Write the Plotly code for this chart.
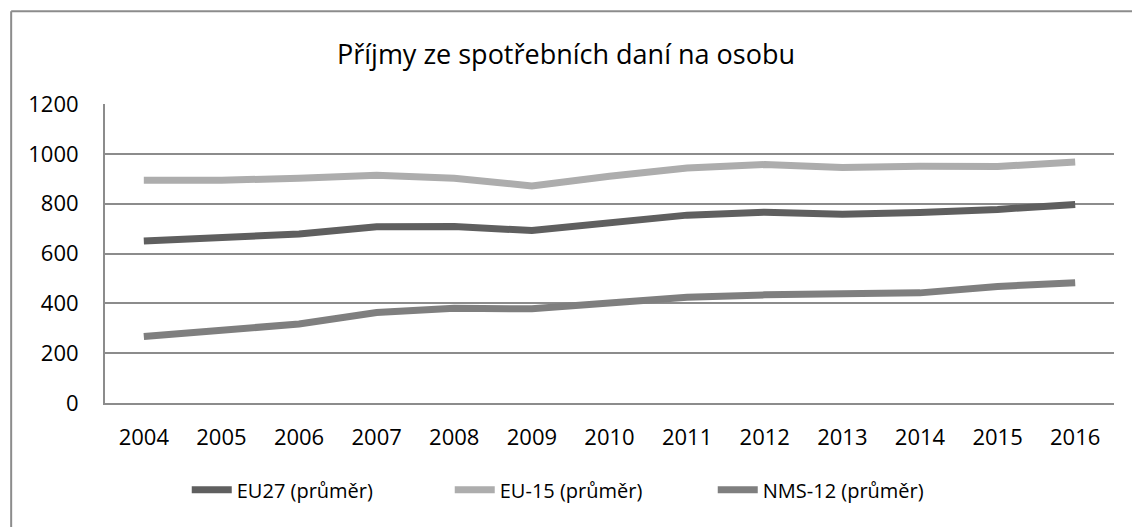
import plotly.graph_objects as go

years = ["2004", "2005", "2006", "2007", "2008", "2009", "2010",
         "2011", "2012", "2013", "2014", "2015", "2016"]
eu27 = [650, 665, 678, 707, 708, 692, 722, 754, 766, 758, 765, 777, 797]
eu15 = [894, 894, 902, 914, 902, 871, 910, 943, 957, 945, 950, 949, 967]
nms12 = [267, 294, 317, 363, 380, 378, 400, 424, 434, 436, 442, 468, 483]

series_names = ["EU27 (průměr)", "EU-15 (průměr)", "NMS-12 (průměr)"]
series_colors = ["#5f5f5f", "#adadad", "#7f7f7f"]

fig = go.Figure()
for name, vals, col in zip(series_names, [eu27, eu15, nms12], series_colors):
    fig.add_trace(go.Scatter(x=years, y=vals, name=name, mode="lines",
                             line=dict(color=col, width=7)))

font_family = "Open Sans, Liberation Sans, sans-serif"
fig.update_layout(
    width=1132, height=527,
    paper_bgcolor="white", plot_bgcolor="white",
    margin=dict(l=105, r=18, t=104, b=124),
    title=dict(text="Příjmy ze spotřebních daní na osobu", x=0.5, xanchor="center",
               y=0.897, yanchor="middle",
               font=dict(family=font_family, size=27, color="#000000")),
    font=dict(family=font_family, size=22, color="#000000"),
    showlegend=True,
    legend=dict(orientation="h", x=0.472, xanchor="center", y=-0.225, yanchor="top",
                font=dict(size=20, color="#000000"), traceorder="normal",
                itemwidth=40, entrywidth=208, entrywidthmode="pixels"),
    xaxis=dict(type="category", range=[-0.5, len(years) - 0.5], showgrid=False,
               showline=True, linecolor="#8c8c8c",
               linewidth=2, ticks="", ticklabelstandoff=14, tickfont=dict(size=22)),
    yaxis=dict(range=[0, 1200], dtick=200, showgrid=True, gridcolor="#8c8c8c",
               gridwidth=2, showline=True, linecolor="#8c8c8c", linewidth=2,
               zeroline=False, ticks="", ticklabelstandoff=20, tickfont=dict(size=22)),
    shapes=[
        dict(type="line", xref="paper", yref="paper", x0=-0.093, x1=-0.093, y0=-0.5, y1=1.31,
             line=dict(color="#8c8c8c", width=2)),
        dict(type="line", xref="paper", yref="paper", x0=-0.093, x1=1.05, y0=1.31, y1=1.31,
             line=dict(color="#8c8c8c", width=2)),
    ],
)

fig.write_html("out.html", config={"displayModeBar": False},
               post_script="document.body.style.margin='0';document.body.style.overflow='hidden';")
